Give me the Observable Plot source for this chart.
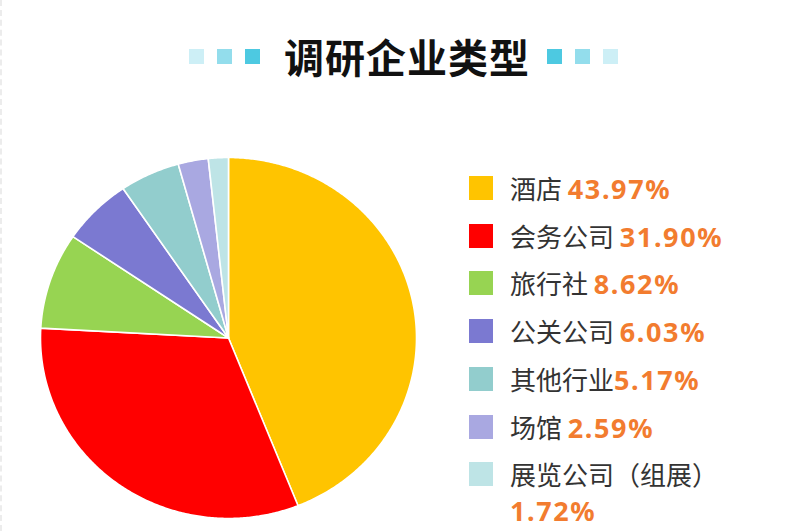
<!DOCTYPE html>
<html>
<head>
<meta charset="utf-8">
<script src="https://cdn.jsdelivr.net/npm/d3@7"></script>
<script src="https://cdn.jsdelivr.net/npm/@observablehq/plot@0.6"></script>
<style>
  html, body { margin: 0; padding: 0; background: #fff; }
  #wrap { position: relative; width: 800px; height: 531px; overflow: hidden; background: #fff;
          border-left: 2px dashed #ececec; box-sizing: border-box; }
  #chart { position: absolute; left: -2px; top: 0; }
  #title { position: absolute; left: 0; top: 31px; width: 800px; height: 50px;
           font-family: "Noto Sans CJK SC", sans-serif; font-weight: 700; font-size: 40px; color: #111; }
  #title .t { position: absolute; left: 282px; top: 0; line-height: 50px; letter-spacing: 1px; }
  .sq { position: absolute; width: 15px; height: 15px; top: 18px; }
  #legend { position: absolute; left: 0; top: 0; }
  .row { position: absolute; left: 467px; height: 30px; white-space: nowrap;
         font-family: "Noto Sans CJK SC", sans-serif; font-size: 26px; color: #333; }
  .sw { position: absolute; left: 0; top: 3px; width: 24px; height: 24px; }
  .lab { position: absolute; left: 41px; top: 0; line-height: 30px; }
  .pct { font-family: "Noto Sans", "Open Sans", sans-serif; font-weight: 700; font-size: 27px;
         letter-spacing: 1.6px; color: #F27C2F; }
</style>
</head>
<body>
<div id="wrap">
  <div id="chart"></div>
  <div id="title"></div>
  <div id="legend"></div>
</div>
<script>
const categories = ["酒店", "会务公司", "旅行社", "公关公司", "其他行业", "场馆", "展览公司（组展）"];
const values = [43.97, 31.90, 8.62, 6.03, 5.17, 2.59, 1.72];
const colors = ["#FFC400", "#FF0000", "#97D452", "#7B79D1", "#92CDCD", "#A9A8E1", "#BEE4E6"];
const titleText = "调研企业类型";
const titleSquares = ["#CDEFF6", "#93DDEC", "#4DC9E1"];

// pie geometry from data
const arcs = d3.pie().sort(null).value(d => d)(values);
const pts = [];
arcs.forEach((a, i) => {
  const cat = categories[i];
  pts.push({cat, x: 0, y: 0});
  const n = Math.max(2, Math.ceil((a.endAngle - a.startAngle) / (Math.PI / 360)));
  for (let k = 0; k <= n; k++) {
    const t = a.startAngle + (a.endAngle - a.startAngle) * k / n;
    pts.push({cat, x: Math.sin(t), y: Math.cos(t)});
  }
});

const plot = Plot.plot({
  width: 800,
  height: 531,
  margin: 0,
  x: {domain: [-1, 1], range: [40, 416], axis: null},
  y: {domain: [-1, 1], range: [518, 157], axis: null},
  color: {domain: categories, range: colors},
  marks: [
    Plot.line(pts, {x: "x", y: "y", z: "cat", fill: "cat", stroke: "#fff", strokeWidth: 1.6, curve: "linear-closed"})
  ]
});
document.getElementById("chart").appendChild(plot);

// title
const title = document.getElementById("title");
const sqLeft = [187, 215, 243];
const sqRight = [545, 573, 601];
sqLeft.forEach((x, i) => {
  const s = document.createElement("div"); s.className = "sq";
  s.style.left = x + "px"; s.style.background = titleSquares[i]; title.appendChild(s);
});
sqRight.forEach((x, i) => {
  const s = document.createElement("div"); s.className = "sq";
  s.style.left = x + "px"; s.style.background = titleSquares[2 - i]; title.appendChild(s);
});
const tt = document.createElement("div"); tt.className = "t"; tt.textContent = titleText; title.appendChild(tt);

// legend
const legend = document.getElementById("legend");
categories.forEach((c, i) => {
  const row = document.createElement("div"); row.className = "row";
  row.style.top = (173 + i * 47.7) + "px";
  const sw = document.createElement("div"); sw.className = "sw"; sw.style.background = colors[i];
  row.appendChild(sw);
  const lab = document.createElement("div"); lab.className = "lab";
  const pctText = values[i].toFixed(2) + "%";
  if (i === categories.length - 1) {
    lab.innerHTML = c + "<br><span class='pct'>" + pctText + "</span>";
    lab.style.lineHeight = "36px"; lab.style.top = "-3px";
  } else {
    const sep = (c === "其他行业") ? "" : " ";
    lab.innerHTML = c + sep + "<span class='pct'>" + pctText + "</span>";
  }
  row.appendChild(lab);
  legend.appendChild(row);
});
</script>
</body>
</html>
